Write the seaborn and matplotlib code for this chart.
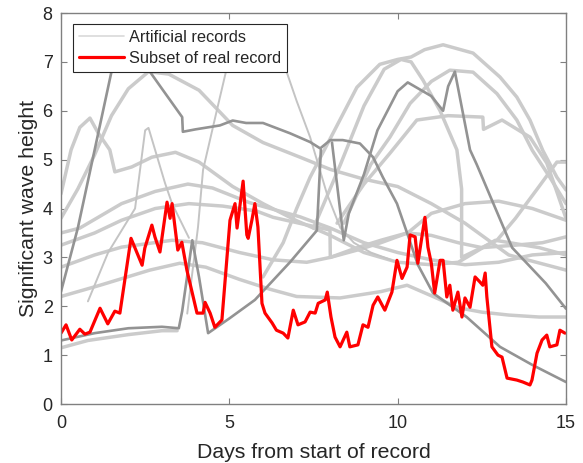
import matplotlib
matplotlib.use("Agg")
import matplotlib.pyplot as plt
import seaborn as sns

# ---------------------------------------------------------------
# Significant wave height (m) against days from start of record
# ---------------------------------------------------------------

# Real record (subset)
real_day = [0.0, 0.15, 0.32, 0.56, 0.71, 0.86, 1.16, 1.39, 1.6, 1.75, 2.08, 2.41, 2.49,
            2.7, 2.79, 2.94, 3.15, 3.24, 3.3, 3.47, 3.59, 3.74, 4.04, 4.22, 4.28, 4.43,
            4.57, 4.78, 5.02, 5.17, 5.23, 5.41, 5.52, 5.56, 5.67, 5.76, 5.85, 5.97, 6.06,
            6.27, 6.4, 6.6, 6.74, 6.9, 7.04, 7.25, 7.4, 7.55, 7.64, 7.85, 7.91, 8.02,
            8.14, 8.29, 8.49, 8.58, 8.82, 8.97, 9.12, 9.27, 9.41, 9.62, 9.83, 9.98,
            10.13, 10.28, 10.37, 10.52, 10.6, 10.81, 10.9, 11.0, 11.1, 11.26, 11.35,
            11.46, 11.55, 11.64, 11.79, 11.91, 12.0, 12.15, 12.3, 12.44, 12.53, 12.6,
            12.65, 12.8, 12.98, 13.1, 13.25, 13.54, 13.72, 13.93, 13.99, 14.14, 14.29,
            14.43, 14.52, 14.73, 14.82, 14.97]
real_hs = [1.45, 1.62, 1.31, 1.53, 1.43, 1.47, 1.96, 1.64, 1.9, 1.86, 3.39, 2.84, 3.19,
           3.66, 3.42, 3.11, 4.13, 3.8, 4.1, 3.15, 3.31, 2.74, 1.86, 1.86, 2.08, 1.86,
           1.57, 1.72, 3.76, 4.1, 3.6, 4.56, 3.46, 3.39, 3.76, 4.1, 3.62, 2.06, 1.86,
           1.66, 1.51, 1.45, 1.35, 1.92, 1.62, 1.68, 1.88, 1.86, 2.06, 2.13, 2.29, 1.78,
           1.37, 1.17, 1.47, 1.17, 1.21, 1.62, 1.57, 2.02, 2.19, 1.92, 2.29, 2.94,
           2.57, 2.8, 3.46, 3.42, 2.88, 3.82, 3.21, 2.88, 2.27, 2.94, 2.94,
           2.19, 2.43, 1.92, 2.29, 1.78, 2.17, 1.98, 2.6, 2.5, 2.43, 2.68,
           2.19, 1.17, 1.0, 0.96, 0.53, 0.49, 0.45, 0.39, 0.49, 1.04, 1.31,
           1.41, 1.17, 1.21, 1.51, 1.45]

# Artificial records (light)
art_a_day = [0, 0.3, 0.56, 0.86, 1.1, 1.45, 1.6, 2.1, 2.7, 3.4, 4.1, 5.1, 6.0, 7.0, 8.0,
             9.0, 10.0, 11.0, 11.8, 12.9, 14.2, 15.0]
art_a_hs = [4.3, 5.2, 5.66, 5.85, 5.55, 5.2, 4.75, 4.85, 5.05, 5.15, 4.95, 4.45, 4.1,
            3.75, 3.45, 3.1, 2.9, 2.85, 2.9, 3.35, 3.2, 3.05]

art_b_day = [0, 0.5, 1.0, 1.5, 2.0, 2.6, 3.2, 4.1, 5.1, 6.0, 7.1, 8.0, 9.0, 10.0, 11.0,
             12.0, 13.3, 15.0]
art_b_hs = [3.8, 4.4, 5.1, 5.9, 6.45, 6.8, 6.75, 6.42, 5.7, 5.35, 5.05, 4.8, 4.6, 4.45,
            4.1, 3.7, 3.05, 2.74]

art_c_day = [0, 0.56, 1.8, 2.8, 3.77, 4.5, 5.6, 7.1, 8.0, 9.0, 10.0, 11.0, 12.0, 13.0,
             14.0, 15.0]
art_c_hs = [3.5, 3.6, 4.1, 4.35, 4.5, 4.42, 4.12, 3.83, 3.6, 3.3, 3.1, 2.95, 2.85, 2.9,
            3.05, 3.1]

art_d_day = [0, 1.0, 1.8, 2.8, 3.8, 4.8, 5.8, 6.3, 7.2, 7.99, 8.0, 8.8, 9.5, 10.3, 11.0,
             12.0, 13.0, 14.0, 15.0]
art_d_hs = [3.25, 3.5, 3.76, 4.0, 4.1, 4.05, 3.95, 3.82, 3.68, 3.56, 3.0, 3.15, 3.3,
            3.5, 3.9, 4.1, 4.15, 4.0, 3.76]

art_e_day = [0, 1.0, 1.8, 3.3, 4.2, 5.3, 6.3, 7.3, 8.0, 8.8, 9.5, 10.28, 11.0, 11.8,
             12.5, 13.5, 14.3, 15.0]
art_e_hs = [2.8, 3.05, 3.21, 3.35, 3.3, 3.1, 2.95, 2.9, 3.0, 3.2, 3.35, 3.5, 3.45, 3.3,
            3.2, 3.25, 3.3, 3.42]

art_f_day = [0, 1.16, 2.64, 3.53, 4.3, 5.3, 6.2, 7.0, 8.29, 9.5, 10.28, 11.05, 11.8,
             12.5, 13.3, 14.2, 15.0]
art_f_hs = [2.2, 2.43, 2.74, 2.88, 2.8, 2.55, 2.35, 2.2, 2.17, 2.3, 2.43, 2.2, 1.97,
            1.88, 1.82, 1.78, 1.78]

art_g_day = [0, 0.8, 2.0, 3.0, 3.45]
art_g_hs = [1.15, 1.3, 1.42, 1.5, 1.5]

art_h_day = [0.8, 1.4, 2.2, 2.5, 2.6, 3.09, 3.3, 3.8]
art_h_hs = [2.1, 3.1, 4.0, 5.6, 5.65, 4.52, 4.1, 3.4]

art_i_day = [3.75, 4.07, 4.22, 4.63, 4.9, 5.3, 5.9, 6.4, 6.7, 7.0, 7.4, 7.9, 8.3, 8.7,
             9.2, 10.0]
art_i_hs = [1.85, 3.62, 4.79, 6.01, 6.8, 7.3, 7.4, 7.1, 6.8, 6.2, 5.46, 4.3, 3.6, 3.3,
            3.1, 2.9]

art_j_day = [6.0, 6.6, 7.0, 7.4, 8.08, 8.79, 9.47, 10.0, 10.4, 10.8, 11.35, 12.24, 13.04,
             13.54, 13.93, 14.31, 14.73, 15.0]
art_j_hs = [2.6, 3.3, 4.0, 4.64, 5.54, 6.48, 6.95, 7.05, 7.1, 7.25, 7.35, 7.18, 6.69,
            6.28, 5.81, 5.19, 4.64, 4.38]

art_k_day = [7.5, 8.3, 9.0, 9.6, 10.1, 10.4, 10.75, 11.26, 11.76, 11.9, 11.9, 12.95,
             13.5, 14.2, 14.73, 15.0]
art_k_hs = [3.6, 4.9, 6.1, 6.85, 7.05, 7.0, 6.63, 6.0, 5.2, 4.4, 3.0, 3.35, 3.8, 4.45,
            4.95, 4.95]

art_l_day = [8.4, 9.2, 9.77, 10.37, 11.0, 11.55, 12.24, 12.95, 13.54, 14.0, 14.52, 15.0]
art_l_hs = [3.7, 4.9, 5.46, 6.15, 6.6, 6.83, 6.79, 6.35, 5.81, 5.19, 4.64, 4.1]

art_m_day = [8.2, 9.0, 9.77, 10.57, 11.5, 12.53, 12.55, 13.1, 13.93, 14.43, 14.7, 15.0]
art_m_hs = [3.7, 4.5, 5.13, 5.81, 5.9, 5.87, 5.62, 5.81, 5.46, 4.93, 4.4, 3.8]

# Artificial records (darker)
art_n_day = [0, 0.5, 1.0, 1.5, 2.0, 2.5, 2.64, 3.0, 3.6, 3.62, 4.0, 4.72, 5.1, 5.5, 6.0,
             6.8, 7.4, 7.7, 8.0, 8.37, 8.88, 9.27, 9.56, 9.98, 10.28, 10.6, 11.05, 12.05,
             13.04, 14.0, 15.0]
art_n_hs = [2.3, 3.6, 5.2, 6.8, 7.2, 7.0, 6.8, 6.45, 5.87, 5.57, 5.62, 5.7, 5.8, 5.75,
            5.75, 5.54, 5.36, 5.23, 5.4, 5.4, 5.33, 5.05, 4.64, 4.1, 3.5, 2.85, 2.27, 1.78,
            1.17, 0.8, 0.45]

art_o_day = [0, 1.0, 2.0, 3.0, 3.5, 3.6, 3.9, 4.1, 4.37, 5.0, 5.76, 6.8, 7.6, 7.72]
art_o_hs = [1.3, 1.45, 1.55, 1.58, 1.55, 1.9, 3.35, 2.6, 1.45, 1.75, 2.13, 2.9, 3.55, 5.2]

art_p_day = [8.05, 8.4, 8.55, 9.0, 9.4, 10.0, 10.3, 11.0, 11.35, 11.5, 11.7, 12.15, 12.35,
             13.4, 14.4, 15.0]
art_p_hs = [5.35, 3.35, 3.9, 4.7, 5.6, 6.4, 6.58, 6.3, 6.0, 6.5, 6.8, 5.2, 4.9, 3.2,
            2.47, 1.95]

light_records = [(art_a_day, art_a_hs), (art_b_day, art_b_hs), (art_c_day, art_c_hs),
                 (art_d_day, art_d_hs), (art_e_day, art_e_hs), (art_f_day, art_f_hs),
                 (art_g_day, art_g_hs), (art_j_day, art_j_hs), (art_k_day, art_k_hs),
                 (art_l_day, art_l_hs), (art_m_day, art_m_hs)]
thin_light_records = [(art_h_day, art_h_hs), (art_i_day, art_i_hs)]
dark_records = [(art_n_day, art_n_hs), (art_o_day, art_o_hs), (art_p_day, art_p_hs)]

x_ticks = [0, 5, 10, 15]
y_ticks = [0, 1, 2, 3, 4, 5, 6, 7, 8]

sns.set_theme(style="white")
plt.rcParams["font.family"] = ["Liberation Sans", "DejaVu Sans"]

fig = plt.figure(figsize=(5.83, 4.63), dpi=100)
ax = fig.add_axes([0.1046, 0.1274, 0.8662, 0.8445])

light_col = "#cbcbcb"
for i, (d, h) in enumerate(light_records):
    sns.lineplot(x=d, y=h, ax=ax, color=light_col, lw=2.5, estimator=None, sort=False,
                 label="Artificial records" if i == 0 else None, legend=False)
for d, h in thin_light_records:
    sns.lineplot(x=d, y=h, ax=ax, color="#c4c4c4", lw=1.4, estimator=None, sort=False,
                 legend=False)
for d, h in dark_records:
    sns.lineplot(x=d, y=h, ax=ax, color="#939393", lw=1.9, estimator=None, sort=False,
                 legend=False)

sns.lineplot(x=real_day, y=real_hs, ax=ax, color="#ff0000", lw=2.3, estimator=None,
             sort=False, label="Subset of real record", legend=False)

ax.set_xlim(0, 15)
ax.set_ylim(0, 8)
ax.set_xticks(x_ticks)
ax.set_yticks(y_ticks)
ax.set_xlabel("Days from start of record", fontsize=15.3, color="#262626", labelpad=8)
ax.set_ylabel("Significant wave height", fontsize=15.3, color="#262626", labelpad=3)

for s in ax.spines.values():
    s.set_visible(True)
    s.set_color("#808080")
    s.set_linewidth(1.0)
ax.tick_params(direction="in", length=4, width=0.8, color="#808080",
               labelsize=13, labelcolor="#262626", top=True, right=True,
               bottom=True, left=True)
ax.tick_params(axis="x", pad=8)
ax.tick_params(axis="y", pad=6)

handles, labels = ax.get_legend_handles_labels()
leg = ax.legend(handles, labels, loc="upper left", bbox_to_anchor=(0.024, 0.972),
                fontsize=11.8, frameon=True, fancybox=False, framealpha=1,
                edgecolor="#262626", handlelength=2.75, handletextpad=0.3,
                borderpad=0.36, labelspacing=0.38, borderaxespad=0)
leg.set_zorder(10)
leg.get_frame().set_linewidth(0.8)
leg.get_lines()[0].set_color("#d9d9d9")
leg.get_lines()[0].set_linewidth(1.2)

fig.savefig("out.png", dpi=100)
